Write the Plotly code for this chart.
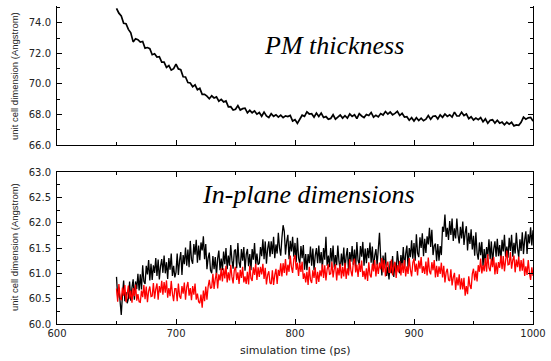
import plotly.graph_objects as go

# sampling times (ps)
time_top = list(range(650, 1001, 2))   # PM thickness, every 2 ps
time_bot = list(range(650, 1001, 1))   # in-plane dimensions, every 1 ps

# PM thickness (Angstrom)
pm_thickness = [
    74.95, 74.63, 74.45, 73.97, 73.94, 73.57, 73.34, 72.75, 72.96, 72.89,
    72.74, 72.78, 72.34, 72.38, 72.31, 71.91, 71.97, 71.76, 71.78, 71.42,
    71.43, 71.08, 71.20, 70.90, 71.00, 71.30, 70.98, 70.93, 70.47, 70.45,
    70.09, 70.06, 69.81, 69.94, 69.62, 69.71, 69.32, 69.32, 69.20, 69.03,
    69.22, 69.08, 69.15, 68.87, 68.99, 68.82, 68.89, 68.50, 68.51, 68.29,
    68.34, 68.58, 68.29, 68.38, 68.41, 68.11, 68.27, 68.11, 68.23, 68.02,
    68.13, 67.88, 68.15, 67.90, 67.80, 68.05, 67.88, 67.98, 67.82, 67.95,
    67.79, 67.91, 67.86, 67.94, 67.57, 67.66, 67.42, 67.72, 67.95, 67.88,
    68.17, 68.03, 68.05, 67.82, 68.09, 67.87, 68.09, 67.80, 67.86, 67.69,
    67.74, 67.98, 67.69, 67.83, 67.96, 67.76, 67.92, 67.76, 68.03, 67.87,
    67.98, 67.73, 68.05, 67.90, 67.80, 68.00, 67.93, 68.13, 67.82, 67.95,
    67.84, 68.06, 67.96, 68.19, 68.02, 68.16, 67.97, 68.07, 68.20, 67.93,
    68.07, 67.83, 67.85, 67.62, 67.79, 67.57, 67.79, 67.60, 67.76, 67.59,
    67.69, 67.93, 67.69, 67.88, 67.91, 67.71, 67.97, 67.81, 68.03, 67.87,
    67.98, 67.83, 68.15, 67.90, 67.90, 68.15, 67.93, 68.03, 67.72, 67.85,
    67.64, 67.76, 67.66, 67.79, 67.52, 67.71, 67.42, 67.62, 67.65, 67.43,
    67.62, 67.43, 67.50, 67.32, 67.49, 67.37, 67.49, 67.25, 67.31, 67.29,
    67.49, 67.83, 67.69, 67.78, 67.81, 67.56,
]

# in-plane dimension, black series (Angstrom)
inplane_black = [
    60.93, 60.52, 60.72, 60.41, 60.18, 60.57, 60.86, 60.45, 60.63, 60.41,
    60.50, 60.84, 60.46, 60.72, 60.88, 60.48, 60.84, 60.69, 60.99, 60.66,
    60.98, 60.68, 61.16, 60.84, 60.79, 61.15, 60.98, 61.26, 60.86, 61.19,
    60.87, 61.16, 61.01, 61.30, 60.95, 61.27, 60.88, 61.14, 61.28, 61.01,
    61.35, 61.00, 61.22, 60.89, 61.30, 61.07, 61.39, 60.95, 61.15, 60.92,
    61.02, 61.39, 60.97, 61.25, 61.42, 60.97, 61.36, 61.18, 61.51, 61.15,
    61.47, 61.12, 61.64, 61.27, 61.19, 61.58, 61.37, 61.66, 61.21, 61.55,
    61.26, 61.61, 61.45, 61.73, 61.28, 61.58, 61.08, 61.30, 61.41, 61.06,
    61.00, 61.34, 61.08, 61.32, 60.96, 61.29, 61.45, 61.06, 61.29, 61.06,
    61.43, 61.18, 61.50, 61.08, 61.35, 61.15, 61.56, 61.26, 61.09, 61.44,
    61.47, 61.10, 61.60, 61.21, 61.11, 61.48, 61.25, 61.52, 61.05, 61.37,
    61.48, 61.14, 61.38, 61.06, 61.48, 61.27, 61.60, 61.17, 61.39, 61.17,
    61.20, 61.52, 61.34, 61.67, 61.28, 61.63, 61.19, 61.48, 61.63, 61.33,
    61.63, 61.38, 61.72, 61.30, 61.57, 61.39, 61.80, 61.50, 61.35, 61.70,
    61.95, 61.83, 61.37, 61.62, 61.76, 61.28, 61.64, 61.43, 61.72, 61.33,
    61.60, 61.22, 61.70, 61.30, 61.19, 61.54, 61.30, 61.56, 61.07, 61.38,
    61.06, 61.38, 61.20, 61.53, 61.15, 61.49, 61.06, 61.35, 61.50, 61.20,
    61.55, 61.20, 61.42, 61.09, 61.50, 61.27, 61.72, 61.15, 61.35, 61.12,
    61.50, 61.23, 61.55, 61.11, 61.36, 61.16, 61.55, 61.23, 61.06, 61.39,
    61.15, 61.51, 61.07, 61.34, 61.50, 61.04, 61.42, 61.23, 61.54, 61.17,
    61.47, 61.12, 61.62, 61.25, 61.17, 61.54, 61.33, 61.62, 61.15, 61.49,
    61.20, 61.50, 61.30, 61.61, 61.21, 61.53, 61.08, 61.35, 61.48, 61.16,
    61.48, 61.80, 61.31, 60.96, 61.35, 61.11, 61.41, 60.95, 61.13, 60.88,
    61.24, 61.00, 61.34, 60.93, 61.21, 61.02, 61.44, 61.15, 61.00, 61.36,
    61.15, 61.52, 61.10, 61.38, 61.55, 61.11, 61.50, 61.32, 61.65, 61.29,
    61.60, 61.25, 61.77, 61.40, 61.32, 61.71, 61.50, 61.79, 61.34, 61.68,
    61.40, 61.73, 61.57, 61.90, 61.52, 61.86, 61.36, 61.54, 61.59, 61.24,
    61.58, 61.25, 61.54, 61.36, 61.92, 61.82, 62.16, 61.72, 61.90, 61.66,
    62.03, 61.76, 62.08, 61.64, 61.89, 61.69, 62.08, 61.76, 61.59, 61.92,
    61.69, 62.02, 61.56, 61.80, 61.93, 61.45, 61.80, 61.58, 61.87, 61.47,
    61.74, 61.35, 61.81, 61.40, 61.27, 61.61, 61.36, 61.62, 61.14, 61.48,
    61.20, 61.52, 61.34, 61.67, 61.28, 61.63, 61.19, 61.48, 61.63, 61.33,
    61.68, 61.34, 61.56, 61.24, 61.66, 61.43, 61.76, 61.33, 61.53, 61.31,
    61.70, 61.44, 61.76, 61.33, 61.60, 61.39, 61.80, 61.49, 61.32, 61.67,
    61.44, 61.81, 61.38, 61.66, 61.83, 61.38, 61.77, 61.59, 61.91, 61.55,
    61.85,
]

# in-plane dimension, red series (Angstrom)
inplane_red = [
    60.70, 60.44, 60.79, 60.53, 60.47, 60.72, 60.56, 60.77, 60.43, 60.67,
    60.76, 60.50, 60.66, 60.42, 60.71, 60.55, 60.78, 60.46, 60.59, 60.44,
    60.43, 60.66, 60.53, 60.77, 60.49, 60.74, 60.43, 60.65, 60.74, 60.54,
    60.55, 60.81, 60.50, 60.69, 60.80, 60.48, 60.75, 60.62, 60.85, 60.58,
    60.83, 60.62, 60.86, 60.52, 60.71, 60.55, 60.85, 60.60, 60.45, 60.70,
    60.70, 60.45, 60.80, 60.55, 60.50, 60.75, 60.60, 60.82, 60.48, 60.73,
    60.83, 60.56, 60.71, 60.47, 60.75, 60.58, 60.80, 60.48, 60.60, 60.44,
    60.41, 60.58, 60.32, 60.66, 60.45, 60.74, 60.48, 60.74, 60.87, 60.70,
    60.72, 60.99, 60.69, 60.89, 61.01, 60.70, 60.98, 60.86, 61.10, 60.84,
    61.10, 60.90, 61.15, 60.82, 61.02, 60.86, 61.17, 60.93, 60.80, 61.06,
    61.13, 60.87, 61.02, 60.79, 61.07, 60.91, 61.13, 60.82, 60.94, 60.79,
    61.03, 60.78, 61.15, 60.90, 60.85, 61.12, 60.97, 61.19, 60.87, 61.12,
    60.93, 61.13, 60.98, 61.19, 60.89, 61.11, 60.78, 60.97, 61.04, 60.81,
    60.79, 61.06, 60.77, 60.97, 61.09, 60.79, 61.07, 60.95, 61.20, 60.94,
    61.20, 61.01, 61.28, 60.96, 61.17, 61.03, 61.35, 61.12, 61.01, 61.28,
    61.36, 61.07, 61.21, 60.95, 61.21, 61.03, 61.23, 60.89, 61.00, 60.82,
    61.03, 60.77, 61.13, 60.87, 60.81, 61.06, 60.91, 61.12, 60.79, 61.03,
    60.83, 61.06, 60.94, 61.18, 60.91, 61.16, 60.86, 61.08, 61.18, 60.98,
    60.99, 61.23, 60.92, 61.09, 61.18, 60.86, 61.11, 60.96, 61.19, 60.90,
    61.13, 60.94, 61.21, 60.89, 61.10, 60.96, 61.28, 61.05, 60.94, 61.21,
    61.29, 61.02, 61.17, 60.93, 61.20, 61.03, 61.25, 60.93, 61.05, 60.88,
    61.10, 60.85, 61.22, 60.97, 60.92, 61.19, 61.04, 61.26, 60.94, 61.19,
    60.99, 61.21, 61.08, 61.30, 61.02, 61.26, 60.94, 61.15, 61.23, 61.02,
    61.02, 61.27, 60.96, 61.14, 61.23, 60.91, 61.16, 61.02, 61.24, 60.96,
    61.20, 61.01, 61.26, 60.94, 61.14, 60.99, 61.30, 61.07, 60.94, 61.21,
    61.29, 61.03, 61.19, 60.96, 61.25, 61.09, 61.32, 61.01, 61.14, 60.99,
    61.23, 60.96, 61.31, 61.04, 60.98, 61.22, 61.06, 61.26, 60.92, 61.15,
    60.93, 61.14, 60.99, 61.21, 60.92, 61.15, 60.82, 61.02, 61.09, 60.87,
    60.85, 61.08, 60.76, 60.92, 61.01, 60.67, 60.92, 60.76, 60.98, 60.68,
    60.90, 60.68, 60.91, 60.56, 60.75, 60.59, 60.94, 60.76, 60.69, 60.99,
    61.09, 60.86, 61.05, 60.84, 61.16, 61.03, 61.29, 61.00, 61.16, 61.04,
    61.30, 61.03, 61.38, 61.11, 61.04, 61.29, 61.12, 61.32, 60.98, 61.21,
    60.99, 61.22, 61.11, 61.35, 61.08, 61.34, 61.04, 61.26, 61.45, 61.17,
    61.18, 61.42, 61.09, 61.26, 61.35, 61.02, 61.27, 61.12, 61.33, 61.04,
    61.26, 61.05, 61.29, 60.95, 61.14, 60.97, 61.26, 61.01, 60.87, 61.12,
    60.95,
]

x_ticks = [600, 700, 800, 900, 1000]
top_y_ticks = [66.0, 68.0, 70.0, 72.0, 74.0]
bot_y_ticks = [60.0, 60.5, 61.0, 61.5, 62.0, 62.5, 63.0]

W, H = 551, 361
def px_x(p):
    return p / W
def px_y(p):
    return 1 - p / H

fig = go.Figure()
fig.add_trace(go.Scatter(x=time_top, y=pm_thickness, mode="lines",
                         line=dict(color="black", width=1.7),
                         xaxis="x", yaxis="y", showlegend=False))
fig.add_trace(go.Scatter(x=time_bot, y=inplane_black, mode="lines",
                         line=dict(color="black", width=1.3),
                         xaxis="x2", yaxis="y2", showlegend=False))
fig.add_trace(go.Scatter(x=time_bot, y=inplane_red, mode="lines",
                         line=dict(color="#ff0000", width=1.3),
                         xaxis="x2", yaxis="y2", showlegend=False))

tick_font = dict(family="DejaVu Sans, sans-serif", size=10, color="#222")
xdom = [px_x(57), px_x(533)]

common_x = dict(range=[600, 1000], domain=xdom, showgrid=False, zeroline=False,
                automargin=False,
                showline=True, linecolor="black", linewidth=1,
                ticks="inside", ticklen=5, tickcolor="black",
                tickvals=x_ticks,
                minor=dict(ticks="inside", ticklen=3, dtick=50, tick0=600, tickcolor="black"),
                tickfont=tick_font)

fig.update_layout(
    template="none",
    width=W, height=H,
    margin=dict(l=0, r=0, t=0, b=0, autoexpand=False),
    paper_bgcolor="white", plot_bgcolor="white",
    xaxis=dict(common_x, anchor="y", showticklabels=False, mirror=False),
    yaxis=dict(range=[66.0, 75.1], domain=[px_y(145), px_y(6)], anchor="x",
               automargin=False,
               showgrid=False, zeroline=False, showline=True, linecolor="black",
               linewidth=1, mirror="ticks", ticks="inside", ticklen=5, tickcolor="black",
               tickvals=top_y_ticks, tickformat=".1f", tickfont=tick_font,
               ticklabelstandoff=3,
               minor=dict(ticks="inside", ticklen=3, dtick=1, tick0=66, tickcolor="black")),
    xaxis2=dict(common_x, anchor="y2", mirror="ticks", showticklabels=True),
    yaxis2=dict(range=[60.0, 63.0], domain=[px_y(324), px_y(172)], anchor="x2",
                automargin=False,
                showgrid=False, zeroline=False, showline=True, linecolor="black",
                linewidth=1, mirror="ticks", ticks="inside", ticklen=5, tickcolor="black",
                tickvals=bot_y_ticks, tickformat=".1f", tickfont=tick_font,
                ticklabelstandoff=3,
                minor=dict(ticks="inside", ticklen=3, dtick=0.25, tick0=60, tickcolor="black")),
)

fig.add_annotation(x=px_x(295), y=px_y(350), xref="paper", yref="paper",
                   xanchor="center", yanchor="middle",
                   text="simulation time (ps)", showarrow=False,
                   font=dict(family="DejaVu Sans, sans-serif", size=11, color="#222"))

ylab_font = dict(family="Liberation Sans, Arial, sans-serif", size=9.5, color="#222")
fig.add_annotation(x=px_x(14), y=px_y(76), xref="paper", yref="paper",
                   xanchor="center", yanchor="middle",
                   text="unit cell dimension (Angstrom)", textangle=-90,
                   showarrow=False, font=ylab_font)
fig.add_annotation(x=px_x(14), y=px_y(247), xref="paper", yref="paper",
                   xanchor="center", yanchor="middle",
                   text="unit cell dimension (Angstrom)", textangle=-90,
                   showarrow=False, font=ylab_font)

title_font = dict(family="Liberation Serif, Times New Roman, serif", size=26, color="black")
fig.add_annotation(x=px_x(334), y=px_y(45), xref="paper", yref="paper",
                   xanchor="center", yanchor="middle",
                   text="<i>PM thickness</i>", showarrow=False, font=title_font)
fig.add_annotation(x=px_x(308), y=px_y(194), xref="paper", yref="paper",
                   xanchor="center", yanchor="middle",
                   text="<i>In-plane dimensions</i>", showarrow=False, font=title_font)

fig.write_html("out.html")
